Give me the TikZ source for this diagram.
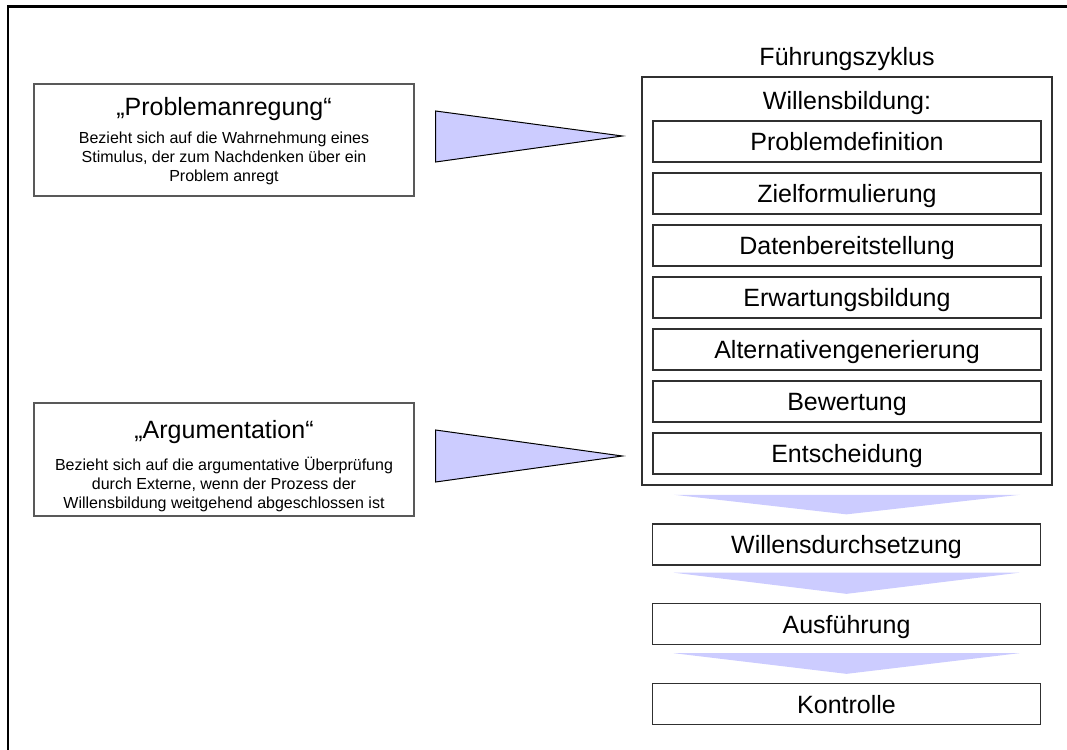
\documentclass[tikz,border=0pt]{standalone}
\usepackage{fontspec}
\setmainfont{Liberation Sans}
\usetikzlibrary{calc}
\definecolor{lav}{HTML}{CCCCFF}
\definecolor{boxline}{HTML}{303030}
\tikzset{
  stepbox/.style={draw=boxline, line width=1.3pt, minimum width=388pt, minimum height=41pt,
    inner sep=0pt, font=\fontsize{25}{30}\selectfont, text height=18pt, text depth=0pt},
  bigtxt/.style={inner sep=0pt, font=\fontsize{25}{30}\selectfont},
  bodytxt/.style={inner sep=0pt, font=\fontsize{16}{18}\selectfont},
  leftbox/.style={draw=boxline!80, line width=1.2pt, minimum width=380pt, inner sep=0pt},
  pointer/.style={draw=black, line width=1pt, fill=lav, line join=miter},
  flowarrow/.style={fill=lav, draw=none},
}
\begin{document}
\begin{tikzpicture}[x=1pt,y=-1pt]
\useasboundingbox (0,0) rectangle (1067,749);
% frame
\draw[line width=2.5pt] (8,760) -- (8,6.5) -- (1080,6.5);

% left boxes
\node[leftbox, minimum height=112pt] (p1) at (224,140) {};
\node[bigtxt, anchor=base] (p1t) at (224,116) {„Problemanregung“};
\node[bodytxt, anchor=base] (p1a) at (224,143) {Bezieht sich auf die Wahrnehmung eines};
\node[bodytxt, anchor=base] (p1b) at (224,162) {Stimulus, der zum Nachdenken über ein};
\node[bodytxt, anchor=base] (p1c) at (224,181) {Problem anregt};

\node[leftbox, minimum height=113pt] (p2) at (224,459.5) {};
\node[bigtxt, anchor=base] (p2t) at (224,438) {„Argumentation“};
\node[bodytxt, anchor=base] (p2a) at (224,470) {Bezieht sich auf die argumentative Überprüfung};
\node[bodytxt, anchor=base] (p2b) at (224,489) {durch Externe, wenn der Prozess der};
\node[bodytxt, anchor=base] (p2c) at (224,508) {Willensbildung weitgehend abgeschlossen ist};

% right column
\node[bigtxt, anchor=base] (fz) at (847,66) {Führungszyklus};
\node[draw=boxline, line width=1.5pt, minimum width=410pt, minimum height=408pt, inner sep=0pt] (wb) at (847,281) {};
\node[bigtxt, anchor=base] (wbt) at (847,110) {Willensbildung:};

\node[stepbox] (s1) at (847,141.5) {Problemdefinition};
\node[stepbox] (s2) at (847,193.5) {Zielformulierung};
\node[stepbox] (s3) at (847,245.5) {Datenbereitstellung};
\node[stepbox] (s4) at (847,297.5) {Erwartungsbildung};
\node[stepbox] (s5) at (847,349.5) {Alternativengenerierung};
\node[stepbox] (s6) at (847,401.5) {Bewertung};
\node[stepbox] (s7) at (847,453.5) {Entscheidung};

\node[stepbox] (wd) at (846.5,544.5) {Willensdurchsetzung};
\node[stepbox] (au) at (846.5,624) {Ausführung};
\node[stepbox] (ko) at (846.5,704) {Kontrolle};

% pointers
\draw[pointer] ($(p1.east)+(21,-29)$) -- ($(s1.west)+(-30,-5.5)$) -- ($(p1.east)+(21,22)$) -- cycle;
\draw[pointer] ($(p2.east)+(21,-29.5)$) -- ($(s7.west)+(-30,2.5)$) -- ($(p2.east)+(21,22.5)$) -- cycle;

% flow arrows
\fill[flowarrow] ($(wb.south)+(-173,9)$) -- ($(wb.south)+(173,9)$) -- ($(wd.north)+(0,-9)$) -- cycle;
\fill[flowarrow] ($(wd.south)+(-173,7)$) -- ($(wd.south)+(173,7)$) -- ($(au.north)+(0,-9)$) -- cycle;
\fill[flowarrow] ($(au.south)+(-173,8)$) -- ($(au.south)+(173,8)$) -- ($(ko.north)+(0,-9)$) -- cycle;
\end{tikzpicture}
\end{document}
